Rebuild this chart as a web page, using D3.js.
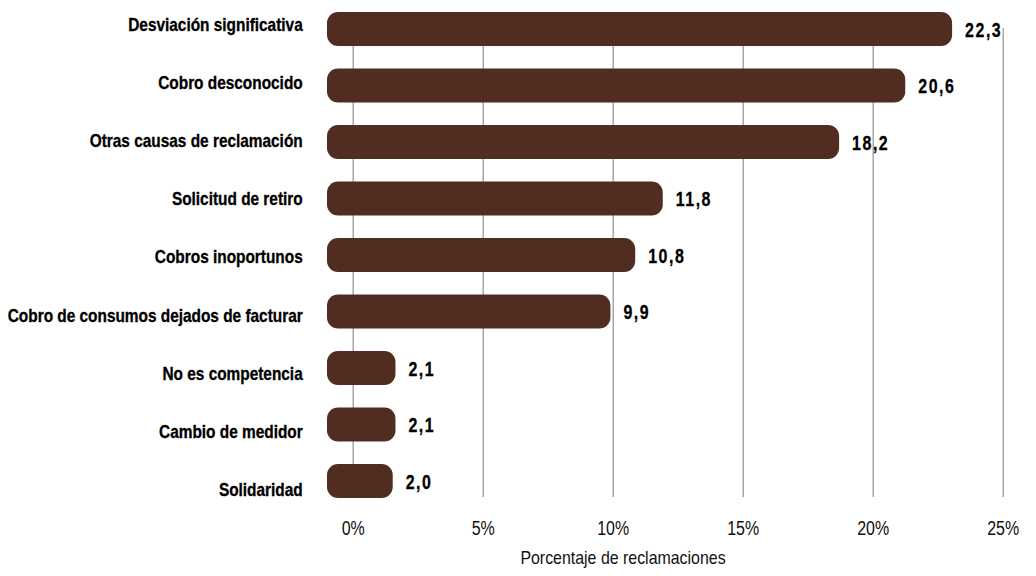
<!DOCTYPE html>
<html>
<head>
<meta charset="utf-8">
<script src="https://cdn.jsdelivr.net/npm/d3@7"></script>
<style>
  body { margin: 0; background: #fff; }
  text { font-family: "Liberation Sans", Arial, sans-serif; fill: #000; }
</style>
</head>
<body>
<svg id="chart" width="1036" height="576"></svg>
<script>
// Reclamaciones por causa (% del total)
const categories = [
  "Desviación significativa",
  "Cobro desconocido",
  "Otras causas de reclamación",
  "Solicitud de retiro",
  "Cobros inoportunos",
  "Cobro de consumos dejados de facturar",
  "No es competencia",
  "Cambio de medidor",
  "Solidaridad"
];
const values = [22.3, 20.6, 18.2, 11.8, 10.8, 9.9, 2.1, 2.1, 2.0];
const tickValues = [0, 5, 10, 15, 20, 25];
const axisTitle = "Porcentaje de reclamaciones";

const svg = d3.select("#chart");
const barColor = "#512c20";
const data = categories.map((c, i) => ({ cat: c, value: values[i] }));

// Scales: one for the percentage grid, one for the bar lengths
const xGrid = d3.scaleLinear().domain([0, 25]).range([352.7, 1002.7]);
const xBar = d3.scaleLinear().domain([0, 25]).range([337.6, 1026.5]);
const yBar = d3.scaleBand().domain(categories).range([12, 498]).paddingInner(0.4).paddingOuter(0);
const yLabel = d3.scalePoint().domain(categories).range([24.2, 489]);

// Vertical grid + percentage ticks
const gridBottom = 497;
const gridTop = 28;
const xAxis = svg.append("g")
  .attr("transform", `translate(0,${gridBottom})`)
  .call(d3.axisBottom(xGrid)
    .tickValues(tickValues)
    .tickSize(-(gridBottom - gridTop))
    .tickFormat(d => d + "%"));
xAxis.select(".domain").remove();
xAxis.selectAll(".tick line").attr("stroke", "#9a9a9a").attr("stroke-width", 1.3);
xAxis.selectAll(".tick text")
  .attr("y", 31).attr("dy", "0.36em")
  .attr("transform", "scale(0.82,1)")
  .style("font-size", "19.5px").style("fill", "#111");

// Bars with rounded ends
const capLeft = 10.6;
svg.append("g").selectAll("rect")
  .data(data)
  .join("rect")
  .attr("x", xBar(0) - capLeft)
  .attr("y", d => yBar(d.cat))
  .attr("width", d => xBar(d.value) - xBar(0) + capLeft)
  .attr("height", yBar.bandwidth())
  .attr("rx", 11).attr("ry", 11)
  .attr("fill", barColor);

// Category labels (condensed bold)
const yAxis = svg.append("g")
  .attr("transform", "translate(302.7,0)")
  .call(d3.axisLeft(yLabel).tickSize(0).tickPadding(0));
yAxis.select(".domain").remove();
yAxis.selectAll(".tick text")
  .attr("dy", "0.36em")
  .attr("transform", "scale(0.88,1)")
  .style("font-size", "17.5px").style("font-weight", "bold")
  .style("fill", "#000").style("stroke", "#000").style("stroke-width", "0.3px");

// Value labels
svg.append("g").selectAll("text")
  .data(data)
  .join("text")
  .attr("transform", d => `translate(${xBar(d.value) + 13},${yBar(d.cat) + yBar.bandwidth() / 2}) scale(0.76,1)`)
  .attr("dy", "0.36em")
  .style("font-size", "21px").style("font-weight", "bold").style("letter-spacing", "2px")
  .style("stroke", "#000").style("stroke-width", "0.3px")
  .text(d => d.value.toFixed(1).replace(".", ","));

// Axis title
svg.append("text")
  .attr("transform", "translate(623,564) scale(0.91,1)")
  .attr("text-anchor", "middle")
  .style("font-size", "17.5px").style("fill", "#111")
  .text(axisTitle);
</script>
</body>
</html>
